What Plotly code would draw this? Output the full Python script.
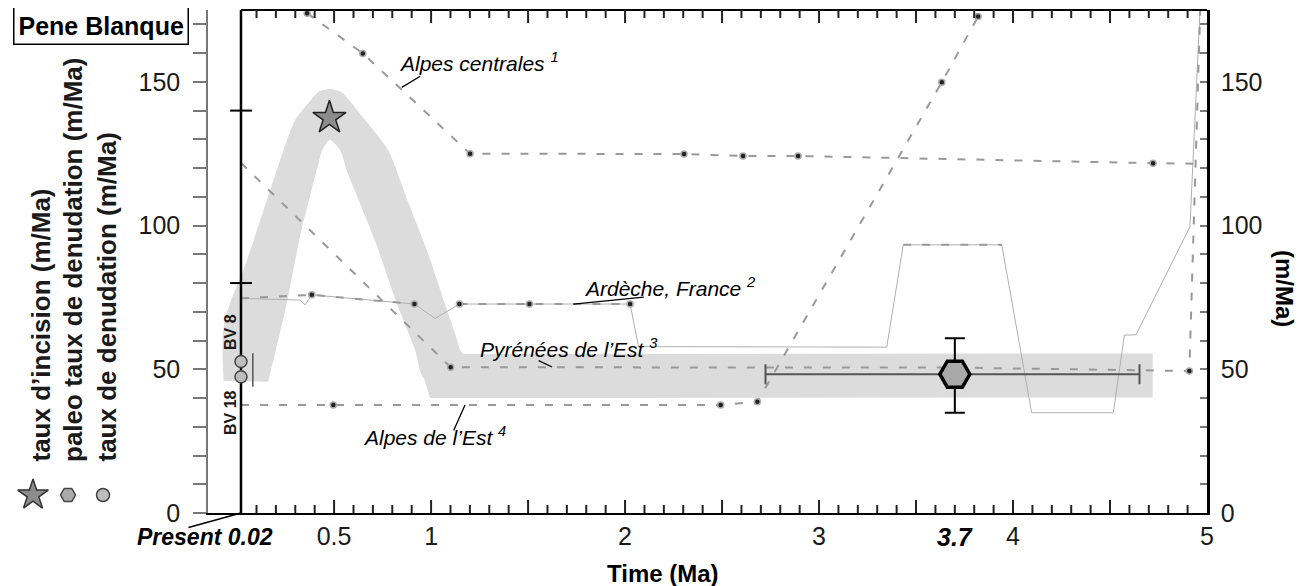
import plotly.graph_objects as go

# the page body has an 8px margin, so the figure is drawn 8px in from the corner
OFF = 8
W, H = 1305 - OFF, 586 - OFF
FONT = "Liberation Sans, Arial, Helvetica, sans-serif"


def fx(X):
    return (X - OFF) / W


def fy(Y):
    return 1 - (Y - OFF) / H


# ---- data: time (Ma) / rate (m/Ma) ----
present_t = 0.02

# gray envelope: curved arch (smoothed outline) ...
arch_t = [-0.07, -0.075, -0.06, -0.02, 0.03, 0.093, 0.205, 0.299, 0.366, 0.42, 0.479,
          0.54, 0.591, 0.66, 0.778, 0.88, 0.978, 1.065, 1.149, 1.17,
          0.962, 0.918, 0.823, 0.715, 0.565, 0.531, 0.479, 0.44,
          0.411, 0.325, 0.256, 0.16]
arch_v = [46, 60, 68, 76, 84, 96.4, 119.3, 136.7, 142.6, 146.5, 147.5,
          146.3, 142.6, 136.7, 126.3, 108.5, 91.5, 74, 56.7, 47,
          47, 56.7, 73, 94, 119.3, 126.3, 129.8, 126.5,
          119.3, 96.4, 73, 45.7]
# ... and the straight tail of the band
tail_t = [0.918, 1.149, 1.165, 4.72, 4.72, 0.995]
tail_v = [56.7, 56.7, 55.3, 55.5, 40.2, 40]

# 1 Alpes centrales
centrales_t = [0.361, 0.648, 1.201, 2.304, 2.608, 2.892, 4.722, 4.96]
centrales_v = [173.9, 159.9, 125.0, 124.9, 124.2, 124.2, 121.7, 121.5]
centrales_dot_t = [0.361, 0.648, 1.201, 2.304, 2.608, 2.892, 4.722]
centrales_dot_v = [173.9, 159.9, 125.0, 124.9, 124.2, 124.2, 121.7]

# 2 Ardeche, France (thin curve + dashed overlay)
ardeche_t = [0.02, 0.325, 0.351, 0.385, 0.914, 1.021, 1.146, 1.507, 2.026, 2.069,
             3.349, 3.434, 3.942, 4.096, 4.517, 4.574, 4.634, 4.912, 4.964]
ardeche_v = [74.7, 74.1, 72.4, 75.9, 72.7, 67.7, 72.7, 72.7, 72.7, 57.9,
             57.7, 93.3, 93.3, 34.9, 34.9, 61.9, 62.0, 99.6, 175]
ardeche_dash_t = [0.02, 0.385, 0.914, None, 1.146, 1.507, 2.026, None, 3.434, 3.942]
ardeche_dash_v = [74.7, 75.9, 72.7, None, 72.7, 72.7, 72.7, None, 93.3, 93.3]
ardeche_dot_t = [0.385, 0.914, 1.146, 1.507, 2.026]
ardeche_dot_v = [75.9, 72.7, 72.7, 72.7, 72.7]

# 3 Pyrenees de l'Est
pyr_t = [0.02, 1.101, 3.7, 4.909, 4.965]
pyr_v = [121.8, 50.7, 50.6, 49.4, 175]
pyr_dot_t = [1.101, 4.909]
pyr_dot_v = [50.7, 49.4]

# 4 Alpes de l'Est
est_t = [0.02, 0.496, 2.493, 2.682, 3.633, 3.82]
est_v = [37.6, 37.6, 37.6, 38.7, 149.9, 172.7]
est_dot_t = [0.496, 2.493, 2.682, 3.633, 3.82]
est_dot_v = [37.6, 37.6, 38.7, 149.9, 172.7]

# taux d'incision
incision_t = [0.476]
incision_v = [137.5]

# paleo taux de denudation
paleo_t = [3.7]
paleo_v = [48.3]
paleo_t_minus = [0.976]
paleo_t_plus = [0.952]
paleo_v_minus = [13.4]
paleo_v_plus = [12.5]

# taux de denudation (BV 8, BV 18)
bv_t = [present_t, present_t]
bv_v = [52.7, 47.4]
bv_err_t = [0.081, 0.081]
bv_err_v = [43.9, 55.6]

x_labels_at = [0.5, 1, 2, 3, 4, 5]
x_labels = ["0.5", "1", "2", "3", "4", "5"]
y_ticks = [0, 50, 100, 150]

DASH = dict(color="#999", width=2, dash="8px,11px")
DOT = dict(size=6, color="#222", line=dict(color="#aaa", width=1.5))

fig = go.Figure()

fig.add_trace(go.Scatter(x=arch_t, y=arch_v, fill="toself", fillcolor="#dcdcdc",
                         line=dict(width=0, shape="spline", smoothing=0.7),
                         mode="lines", hoverinfo="skip"))
fig.add_trace(go.Scatter(x=tail_t, y=tail_v, fill="toself", fillcolor="#dcdcdc",
                         line=dict(width=0), mode="lines", hoverinfo="skip"))

fig.add_trace(go.Scatter(x=ardeche_t, y=ardeche_v, mode="lines",
                         line=dict(color="#b0b0b0", width=1)))
fig.add_trace(go.Scatter(x=ardeche_dash_t, y=ardeche_dash_v, mode="lines", line=DASH))
fig.add_trace(go.Scatter(x=centrales_t, y=centrales_v, mode="lines", line=DASH))
fig.add_trace(go.Scatter(x=pyr_t, y=pyr_v, mode="lines", line=DASH))
fig.add_trace(go.Scatter(x=est_t, y=est_v, mode="lines", line=DASH))

for tt, vv in [(centrales_dot_t, centrales_dot_v), (ardeche_dot_t, ardeche_dot_v),
               (pyr_dot_t, pyr_dot_v), (est_dot_t, est_dot_v)]:
    fig.add_trace(go.Scatter(x=tt, y=vv, mode="markers", marker=DOT))

# black "present" line
fig.add_trace(go.Scatter(x=[present_t, present_t], y=[0, 175], mode="lines",
                         line=dict(color="black", width=2.5)))

fig.add_trace(go.Scatter(x=bv_err_t, y=bv_err_v, mode="lines",
                         line=dict(color="#555", width=1.5)))
fig.add_trace(go.Scatter(x=bv_t, y=bv_v, mode="markers",
                         marker=dict(symbol="circle", size=12, color="#bdbdbd",
                                     line=dict(color="#444", width=1.5))))

fig.add_trace(go.Scatter(
    x=paleo_t, y=paleo_v, mode="markers",
    marker=dict(symbol="hexagon2", size=30, color="#a8a8a8", line=dict(color="black", width=3.5)),
    error_x=dict(type="data", symmetric=False, array=paleo_t_plus, arrayminus=paleo_t_minus,
                 color="#555", thickness=2, width=10),
    error_y=dict(type="data", symmetric=False, array=paleo_v_plus, arrayminus=paleo_v_minus,
                 color="black", thickness=2, width=10)))

fig.add_trace(go.Scatter(x=incision_t, y=incision_v, mode="markers",
                         marker=dict(symbol="star", size=25, color="#8c8c8c",
                                     line=dict(color="#222", width=1.5))))

# dummy trace so the right axis gets drawn
fig.add_trace(go.Scatter(x=[1], y=[1], xaxis="x", yaxis="y2", mode="markers",
                         marker=dict(opacity=0), hoverinfo="skip"))

# legend keys (rotated legend on the left), positions in screen pixels
key_x = [33, 68, 103]
key_y = 495
key_style = [("star", 23, "#8c8c8c", "#333"), ("hexagon2", 15, "#aaa", "#444"),
             ("circle", 13, "#bdbdbd", "#444")]
for kx, (sym, sz, fc, lc) in zip(key_x, key_style):
    fig.add_trace(go.Scatter(x=[kx - OFF], y=[H - (key_y - OFF)], xaxis="x3", yaxis="y3",
                             mode="markers",
                             marker=dict(symbol=sym, size=sz, color=fc,
                                         line=dict(color=lc, width=1.5))))

xdom = [fx(208), fx(1207)]
ydom = [fy(513), fy(10)]

fig.update_layout(
    template="none",
    width=W, height=H, margin=dict(l=0, r=0, t=0, b=0, pad=0, autoexpand=False),
    plot_bgcolor="white", paper_bgcolor="white", showlegend=False,
    font=dict(family=FONT, size=24, color="#1a1a1a"),
    xaxis=dict(domain=xdom, range=[-0.15, 5], anchor="y", showgrid=False, zeroline=False,
               automargin=False, showline=True, linecolor="black", linewidth=2,
               ticks="", tickmode="array", tickvals=x_labels_at, ticktext=x_labels,
               tickfont=dict(size=25), ticklabelstandoff=0),
    yaxis=dict(domain=ydom, range=[0, 175], anchor="x", showgrid=False, zeroline=False,
               automargin=False, showline=True, linecolor="#777", linewidth=1.5,
               ticks="outside", ticklen=13, tickwidth=1.5, tickcolor="#777",
               tickmode="array", tickvals=y_ticks, tickfont=dict(size=25),
               ticklabelstandoff=8,
               minor=dict(dtick=10, ticks="outside", ticklen=13, tickwidth=1.5,
                          tickcolor="#777", showgrid=False)),
    yaxis2=dict(overlaying="y", side="right", anchor="x", range=[0, 175], showgrid=False,
                zeroline=False, automargin=False, showline=True, linecolor="black", linewidth=2.5,
                ticks="inside", ticklen=7, tickwidth=1.5, tickcolor="#777",
                tickmode="array", tickvals=y_ticks, tickfont=dict(size=25),
                ticklabelstandoff=6,
                minor=dict(dtick=10, ticks="inside", ticklen=7, tickwidth=1.5,
                           tickcolor="#777", showgrid=False)),
    xaxis3=dict(domain=[0, 0.15], range=[0, 0.15 * W], anchor="y3", visible=False,
                automargin=False),
    yaxis3=dict(domain=[0, 0.2], range=[0, 0.2 * H], anchor="x3", visible=False,
                automargin=False),
)

# top frame (starts at the present line)
fig.add_shape(type="line", xref="x", yref="paper", x0=present_t, x1=5,
              y0=ydom[1], y1=ydom[1], line=dict(color="black", width=2))
# time-axis ticks every 0.1 Ma (longer every 0.5 Ma), pointing inward, top and bottom
for k in range(1, 50):
    tlen = (13 if k % 5 == 0 else 8) / H
    for y0, y1 in [(ydom[0], ydom[0] + tlen), (ydom[1], ydom[1] - tlen)]:
        fig.add_shape(type="line", xref="x", yref="paper", x0=k / 10, x1=k / 10,
                      y0=y0, y1=y1, line=dict(color="#222", width=2))
# cross ticks on the present line
for yv in [80, 140]:
    fig.add_shape(type="line", xref="x", yref="y", x0=-0.036, x1=0.077, y0=yv, y1=yv,
                  line=dict(color="black", width=2))

C = dict(xanchor="center", yanchor="middle", showarrow=False)
ann = []
ann.append(dict(xref="paper", yref="paper", x=fx(101), y=fy(25), text="<b>Pene Blanque</b>",
                font=dict(size=25, color="black"), bordercolor="black",
                borderwidth=1.5, borderpad=4, bgcolor="white", **C))
for lx, txt in zip([40, 73, 106], ["taux d’incision (m/Ma)", "paleo taux de denudation (m/Ma)",
                                   "taux de denudation (m/Ma)"]):
    ann.append(dict(xref="paper", yref="paper", x=fx(lx), y=fy(464), text="<b>%s</b>" % txt,
                    textangle=-90, xanchor="center", yanchor="bottom", showarrow=False,
                    font=dict(size=26)))
for by, txt in [(332, "BV 8"), (413, "BV 18")]:
    ann.append(dict(xref="paper", yref="paper", x=fx(230), y=fy(by), text="<b>%s</b>" % txt,
                    textangle=-90, font=dict(size=16), **C))

labels = [("Alpes centrales <sup>1</sup>", 0.825, 156.9),
          ("Ardèche, France <sup>2</sup>", 1.778, 78.6),
          ("Pyrénées de l’Est <sup>3</sup>", 1.242, 57.4),
          ("Alpes de l’Est <sup>4</sup>", 0.639, 26.8)]
for txt, lt, lv in labels:
    ann.append(dict(xref="x", yref="y", x=lt, y=lv, text="<i>%s</i>" % txt, xanchor="left",
                    yanchor="middle", showarrow=False, font=dict(size=21, color="black")))
leaders = [(0.849, 148.1, 20, -12), (1.733, 72.7, 72, -7), (1.624, 50.8, -15, -7),
           (1.175, 37.6, -12, 27)]
for lt, lv, dx, dy in leaders:
    ann.append(dict(xref="x", yref="y", x=lt, y=lv, text="", showarrow=True, arrowhead=0,
                    ax=dx, ay=dy, arrowwidth=1.3, arrowcolor="black", standoff=0))

ann.append(dict(xref="paper", yref="paper", x=fx(275), y=fy(537), xanchor="right",
                yanchor="middle", showarrow=False,
                text="<b><i>Present 0.02</i></b>", font=dict(size=23, color="black")))
ann.append(dict(xref="x", yref="y", x=present_t, y=0, text="", showarrow=True, arrowhead=0,
                ax=-54, ay=15, arrowwidth=1.5, arrowcolor="black", standoff=0))
ann.append(dict(xref="x", yref="paper", x=3.7, y=fy(537), text="<b><i>3.7</i></b>",
                font=dict(size=25, color="black"), **C))
ann.append(dict(xref="paper", yref="paper", x=fx(663), y=fy(573), text="<b>Time (Ma)</b>",
                font=dict(size=24, color="black"), **C))
ann.append(dict(xref="paper", yref="paper", x=fx(1285), y=fy(288), text="<b>(m/Ma)</b>",
                textangle=90, font=dict(size=24, color="black"), **C))
fig.update_layout(annotations=ann)

fig.write_html("out.html")
